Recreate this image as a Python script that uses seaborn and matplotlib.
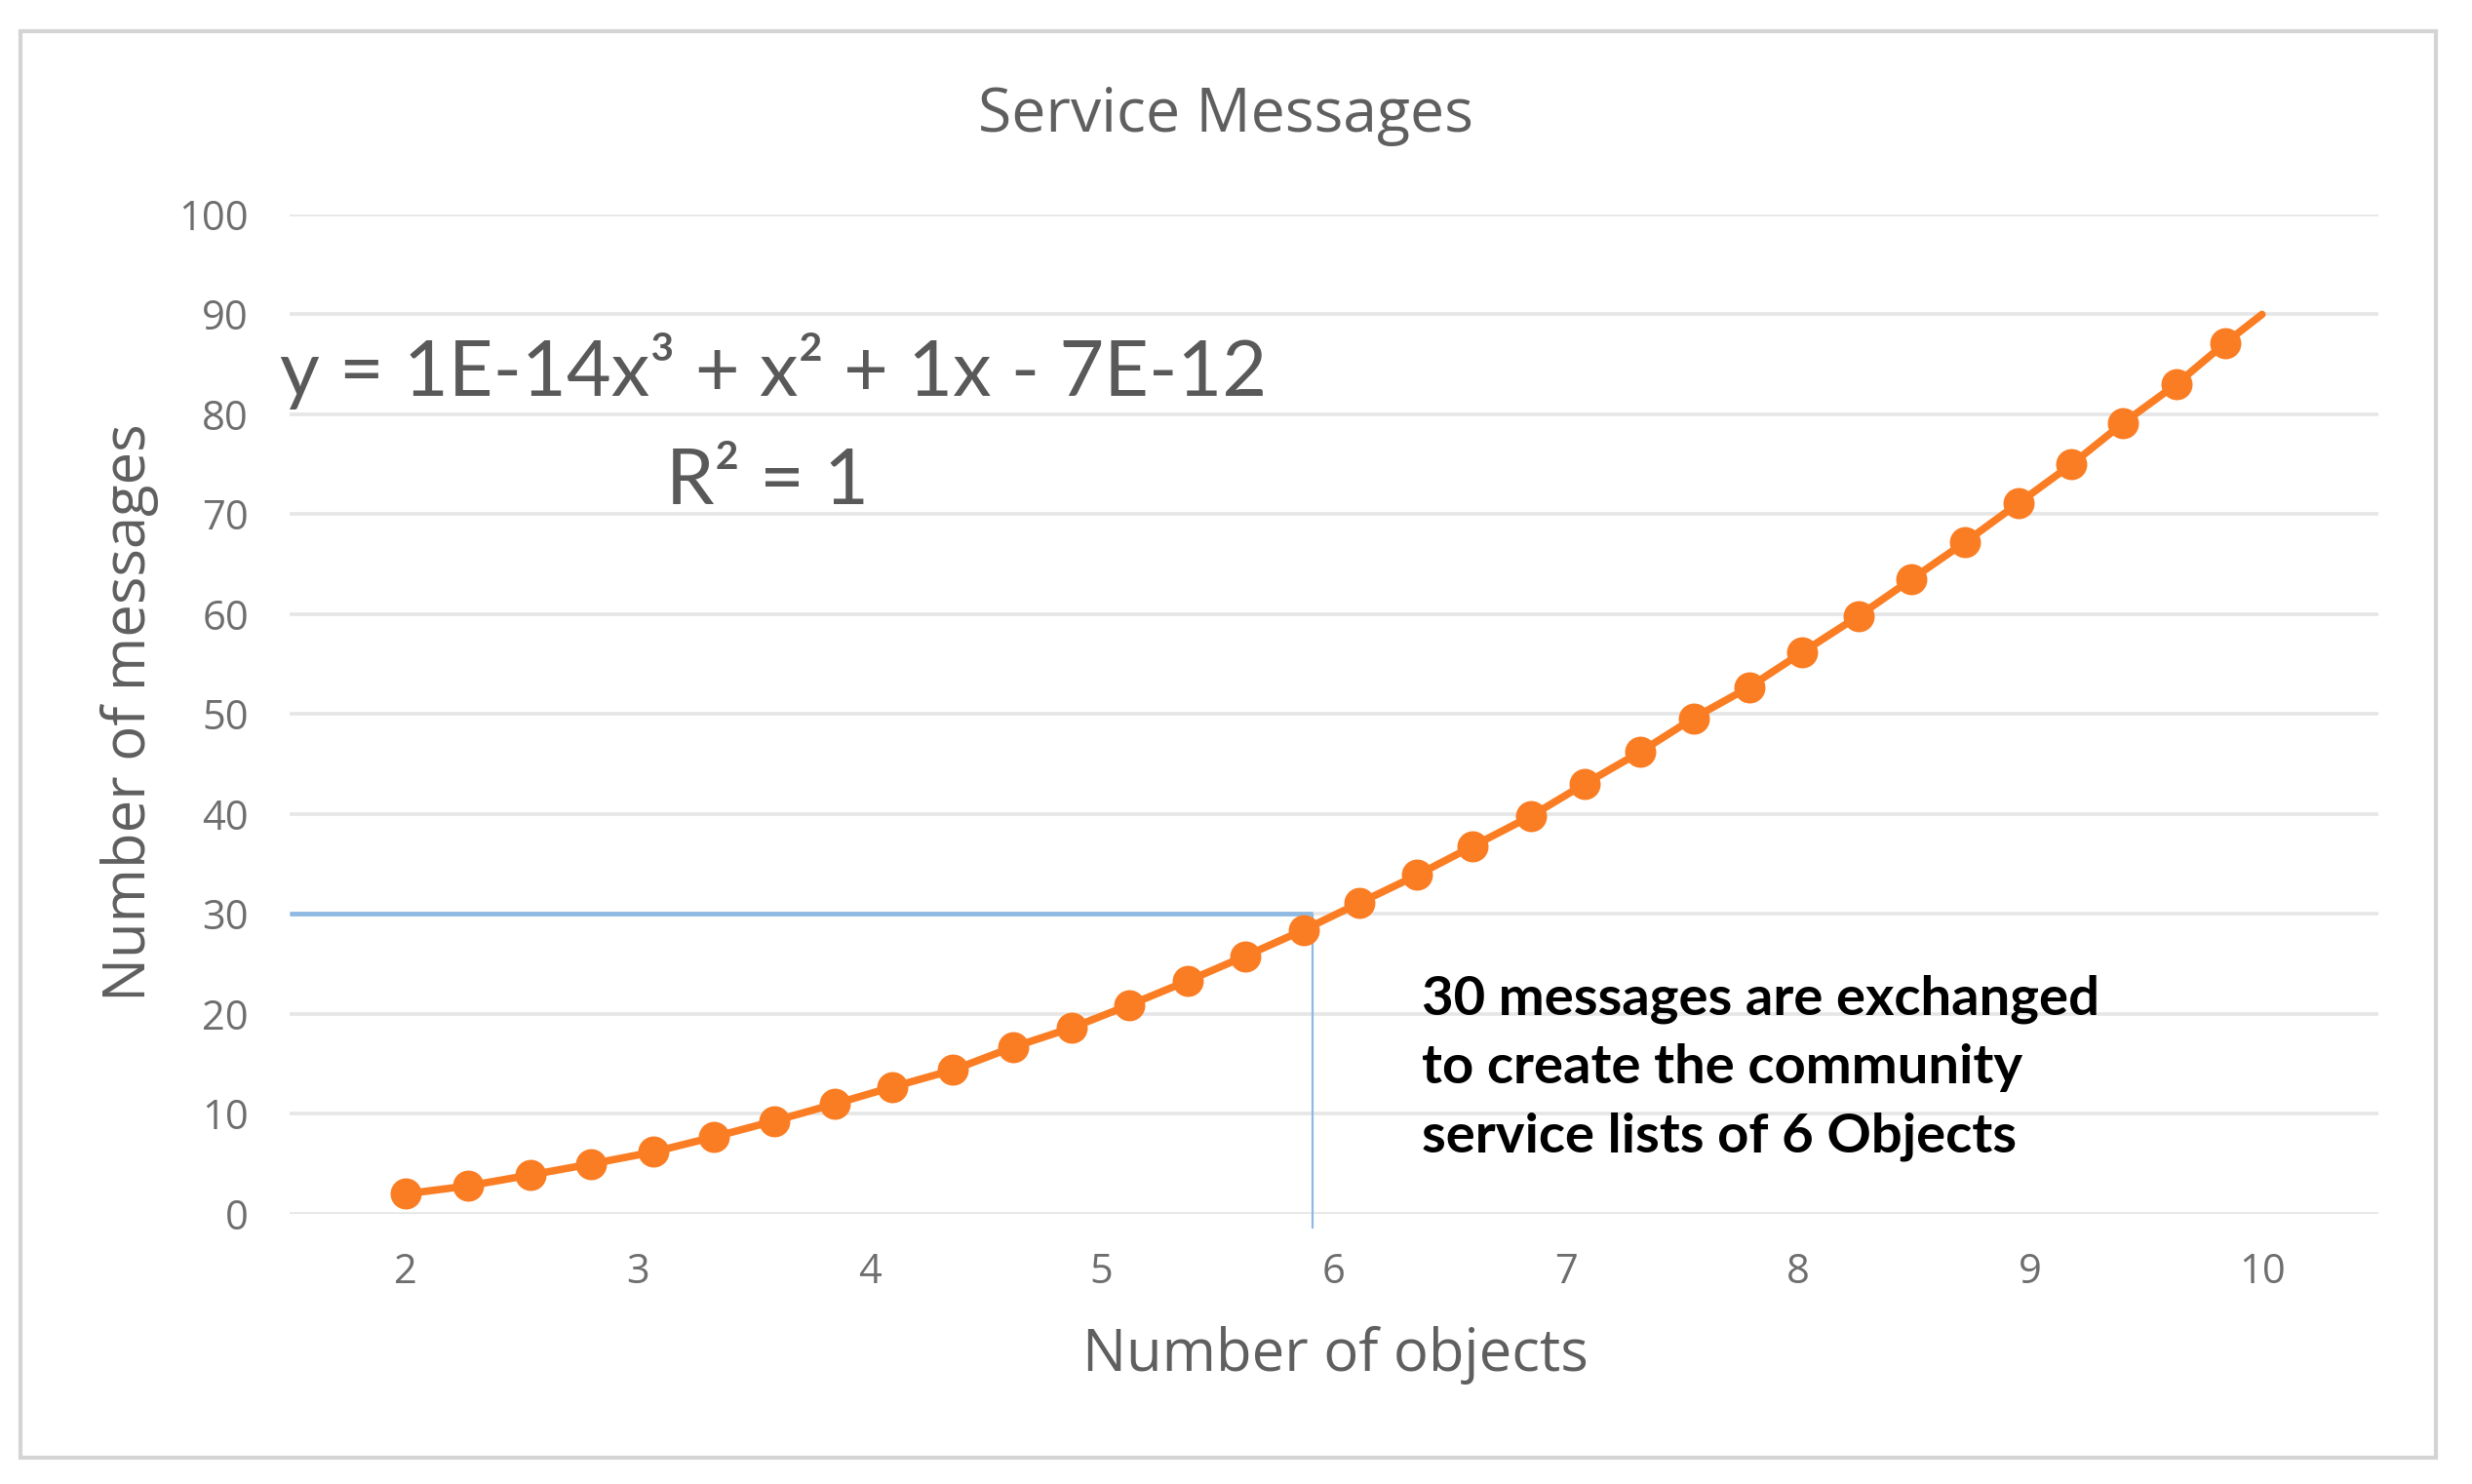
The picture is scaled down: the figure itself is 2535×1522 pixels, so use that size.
import matplotlib
matplotlib.use("Agg")
import matplotlib.pyplot as plt
import seaborn as sns
import pandas as pd
from matplotlib.patches import Rectangle

# values (last point = end of trend line, no marker)
objects = [2.00, 2.27, 2.54, 2.80, 3.07, 3.33, 3.59, 3.85, 4.10, 4.36, 4.62,
           4.87, 5.12, 5.37, 5.62, 5.87, 6.11, 6.36, 6.60, 6.85, 7.08, 7.32,
           7.55, 7.79, 8.02, 8.26, 8.49, 8.72, 8.95, 9.18, 9.40, 9.63, 9.84,
           10.00]
messages = [2.0, 2.8, 3.9, 5.0, 6.2, 7.7, 9.3, 11.0, 12.7, 14.4, 16.7,
            18.6, 20.9, 23.3, 25.8, 28.4, 31.1, 33.9, 36.8, 39.8, 43.0, 46.2,
            49.6, 52.7, 56.2, 59.8, 63.5, 67.2, 71.1, 75.0, 79.1, 83.0, 87.1,
            90.0]
n_markers = 33

x_ticks = [2, 3, 4, 5, 6, 7, 8, 9, 10]
y_ticks = [0, 10, 20, 30, 40, 50, 60, 70, 80, 90, 100]

ref_x = 5.91   # highlighted point: 6 objects -> 30 messages
ref_y = 30

title = "Service Messages"
x_label = "Number of objects"
y_label = "Number of messages"
equation = "y = 1E-14x³ + x² + 1x - 7E-12"
r_squared = "R² = 1"
note = "30 messages are exchanged\nto create the community\nservice lists of 6 Objects"

df = pd.DataFrame({"objects": objects, "messages": messages})

sns.set_theme(style="white")
plt.rcParams["font.family"] = ["Open Sans", "DejaVu Sans"]

orange = "#FB7D23"
grey_text = "#6E6E6E"

fig = plt.figure(figsize=(25.35, 15.22), dpi=100)
ax = fig.add_axes([0.117, 0.182, 0.845, 0.6735])

# outer chart frame
fig.patches.append(Rectangle((0.0083, 0.0177), 0.977, 0.961, transform=fig.transFigure,
                             fill=False, edgecolor="#D4D4D4", linewidth=3))

sns.lineplot(data=df, x="objects", y="messages", ax=ax, color=orange, linewidth=5.5,
             marker="o", markersize=23, markeredgewidth=0, markevery=list(range(n_markers)),
             sort=False, zorder=5)

# reference lines to the 6-object point
ax.plot([1.5, ref_x], [ref_y, ref_y], color="#8DB9E2", linewidth=3.4, zorder=3,
        solid_capstyle="butt")
ax.plot([ref_x, ref_x], [ref_y, -1.5], color="#8DB9E2", linewidth=1.6, zorder=3,
        clip_on=False, solid_capstyle="butt")

ax.set_xlim(1.5, 10.5)
ax.set_ylim(0, 100)
ax.set_xticks(x_ticks)
ax.set_yticks(y_ticks)
ax.yaxis.grid(True, color="#E6E6E6", linewidth=2.6)
ax.xaxis.grid(False)
for s in ax.spines.values():
    s.set_visible(False)
ax.tick_params(axis="both", length=0, labelsize=30, labelcolor=grey_text)
ax.tick_params(axis="x", pad=28)
ax.tick_params(axis="y", pad=30)
ax.set_xlabel("")
ax.set_ylabel("")

fig.text(0.496, 0.922, title, ha="center", va="center", fontsize=45, color="#5F5F5F")
fig.text(0.540, 0.0867, x_label, ha="center", va="center", fontsize=43, color="#5F5F5F")
fig.text(0.0523, 0.52, y_label, ha="center", va="center", rotation=90, fontsize=43,
         color="#5F5F5F")

ax.text(1.46, 84.3, equation, ha="left", va="center", fontsize=57, color="#595959",
        family=["Lato", "DejaVu Sans"])
ax.text(3.56, 73.2, r_squared, ha="center", va="center", fontsize=57, color="#595959",
        family=["Lato", "DejaVu Sans"])

ax.text(6.38, 14.6, note, ha="left", va="center", fontsize=40.5, fontweight="bold",
        color="black", linespacing=1.5, family=["Lato", "DejaVu Sans"])

fig.savefig("out.png", dpi=100, facecolor="white")
